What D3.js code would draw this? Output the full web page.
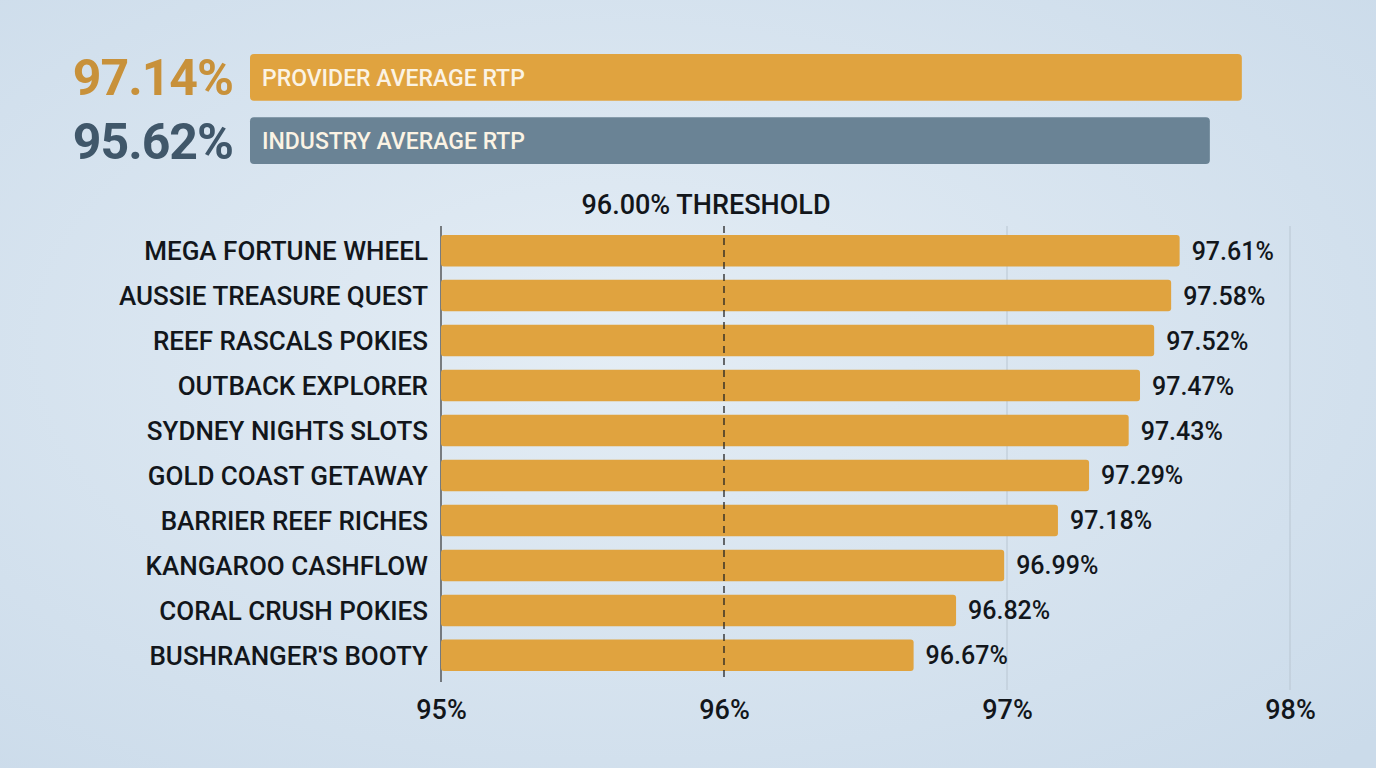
<!DOCTYPE html>
<html>
<head>
<meta charset="utf-8">
<script src="https://cdn.jsdelivr.net/npm/d3@7"></script>
<style>
  body { margin: 0; overflow: hidden; }
  svg { display: block; font-family: Roboto, "Noto Sans", sans-serif; }
</style>
</head>
<body>
<div id="chart"></div>
<script>
var width = 1376,
  height = 768;

// data
var games = ["MEGA FORTUNE WHEEL", "AUSSIE TREASURE QUEST", "REEF RASCALS POKIES", "OUTBACK EXPLORER",
  "SYDNEY NIGHTS SLOTS", "GOLD COAST GETAWAY", "BARRIER REEF RICHES", "KANGAROO CASHFLOW",
  "CORAL CRUSH POKIES", "BUSHRANGER'S BOOTY"];
var rtp = [97.61, 97.58, 97.52, 97.47, 97.43, 97.29, 97.18, 96.99, 96.82, 96.67];
var avgLabels = ["PROVIDER AVERAGE RTP", "INDUSTRY AVERAGE RTP"];
var avgValues = [97.14, 95.62];
var threshold = 96.00;
var xTicks = [95, 96, 97, 98];

var gold = "#e0a33f",
  slate = "#6a8395";

var svg = d3.select("#chart").append("svg")
  .attr("width", width)
  .attr("height", height);

// background
var defs = svg.append("defs");
var bg = defs.append("radialGradient").attr("id", "bg")
  .attr("cx", "45%").attr("cy", "45%").attr("r", "75%");
bg.append("stop").attr("offset", "0%").attr("stop-color", "#e4edf5");
bg.append("stop").attr("offset", "100%").attr("stop-color", "#cbdbea");
svg.append("rect").attr("width", width).attr("height", height).attr("fill", "url(#bg)");

// summary bars
var xa = d3.scaleLinear().domain([50, 100]).range([250, 1302]);
var ya = d3.scaleBand().domain(avgLabels).range([54, 164]).paddingInner(0.26);
var avgColors = [gold, slate],
  numColors = ["#c8913a", "#40576a"];

var avg = svg.append("g").selectAll("g").data(avgLabels).enter().append("g");
avg.append("rect")
  .attr("x", xa(50))
  .attr("y", function (d) { return ya(d); })
  .attr("width", function (d, i) { return xa(avgValues[i]) - xa(50); })
  .attr("height", ya.bandwidth())
  .attr("rx", 4)
  .attr("fill", function (d, i) { return avgColors[i]; });
avg.append("text")
  .attr("x", xa(50) + 12)
  .attr("y", function (d) { return ya(d) + ya.bandwidth() / 2; })
  .attr("dy", "0.36em")
  .attr("fill", "#fbf3e4")
  .attr("font-size", 23)
  .attr("font-weight", 500)
  .text(function (d) { return d; });
avg.append("text")
  .attr("x", 233)
  .attr("y", function (d) { return ya(d) + ya.bandwidth() / 2; })
  .attr("dy", "0.36em")
  .attr("text-anchor", "end")
  .attr("fill", function (d, i) { return numColors[i]; })
  .attr("font-size", 50)
  .attr("font-weight", 700)
  .attr("letter-spacing", -1)
  .text(function (d, i) { return avgValues[i].toFixed(2) + "%"; });

// main chart
var x = d3.scaleLinear().domain([95, 98]).range([441, 1290]);
var y = d3.scaleBand().domain(games).range([234, 672]).paddingInner(0.3).paddingOuter(0.02);
var yTop = 226, yBottom = 682;

var grid = svg.append("g");
grid.selectAll("line").data(xTicks.slice(2)).enter().append("line")
  .attr("x1", function (d) { return x(d); })
  .attr("x2", function (d) { return x(d); })
  .attr("y1", yTop).attr("y2", yBottom + 8)
  .attr("stroke", "#b9c6d2").attr("stroke-width", 1);

svg.append("line")
  .attr("x1", x(95)).attr("x2", x(95))
  .attr("y1", yTop).attr("y2", yBottom)
  .attr("stroke", "#333").attr("stroke-width", 1.2);

var rows = svg.append("g").selectAll("g").data(games).enter().append("g");
rows.append("rect")
  .attr("x", x(95))
  .attr("y", function (d) { return y(d); })
  .attr("width", function (d, i) { return x(rtp[i]) - x(95); })
  .attr("height", y.bandwidth())
  .attr("rx", 3)
  .attr("fill", gold);
rows.append("text")
  .attr("x", 428)
  .attr("y", function (d) { return y(d) + y.bandwidth() / 2; })
  .attr("dy", "0.36em")
  .attr("text-anchor", "end")
  .attr("fill", "#12161b")
  .attr("font-size", 26)
  .attr("font-weight", 500)
  .text(function (d) { return d; });
rows.append("text")
  .attr("x", function (d, i) { return x(rtp[i]) + 12; })
  .attr("y", function (d) { return y(d) + y.bandwidth() / 2; })
  .attr("dy", "0.36em")
  .attr("fill", "#12161b")
  .attr("font-size", 25)
  .attr("font-weight", 500)
  .text(function (d, i) { return rtp[i].toFixed(2) + "%"; });

// threshold
svg.append("line")
  .attr("x1", x(threshold)).attr("x2", x(threshold))
  .attr("y1", yTop).attr("y2", yBottom)
  .attr("stroke", "#222").attr("stroke-width", 1.3)
  .attr("stroke-dasharray", "7,5");
svg.append("text")
  .attr("x", x(threshold) - 18)
  .attr("y", 204)
  .attr("dy", "0.36em")
  .attr("text-anchor", "middle")
  .attr("fill", "#12161b")
  .attr("font-size", 27)
  .attr("font-weight", 500)
  .text(threshold.toFixed(2) + "% THRESHOLD");

// x axis
var xAxis = svg.append("g")
  .attr("transform", "translate(0,697)")
  .call(d3.axisBottom(x).tickValues(xTicks).tickSize(0).tickFormat(function (d) { return d + "%"; }));
xAxis.select(".domain").remove();
xAxis.selectAll("text")
  .attr("font-size", 27)
  .attr("font-family", "Roboto, sans-serif")
  .attr("font-weight", 500)
  .attr("fill", "#12161b");
</script>
</body>
</html>
